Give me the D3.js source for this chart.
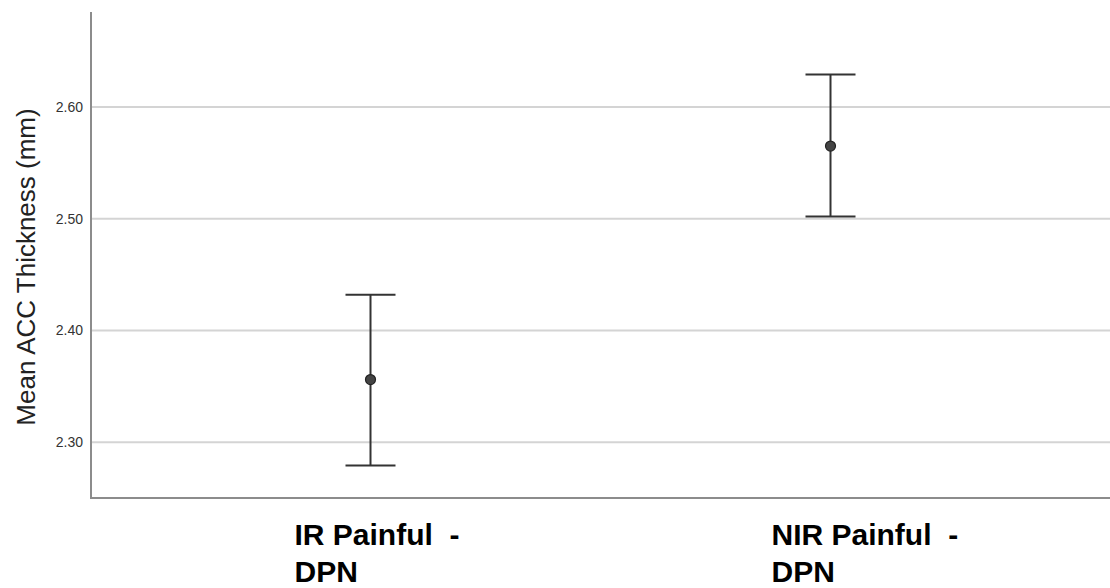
<!DOCTYPE html>
<html>
<head>
<meta charset="utf-8">
<script src="https://cdn.jsdelivr.net/npm/d3@7/dist/d3.min.js"></script>
<style>
  html, body { margin: 0; padding: 0; background: #fff; }
  svg { display: block; }
</style>
</head>
<body>
<svg id="chart" width="1110" height="588"></svg>
<script>
// ---- data ----
const categories = ["IR Painful  -|DPN", "NIR Painful  -|DPN"];
const means = [2.356, 2.565];
const lower = [2.279, 2.502];
const upper = [2.432, 2.629];
const yTicks = [2.30, 2.40, 2.50, 2.60];
const yTitle = "Mean ACC Thickness (mm)";
const labelOffsets = [-76, -59];

// ---- layout ----
const W = 1110, H = 588;
const axisX = 91, plotTop = 12, plotBottom = 498;

const svg = d3.select("#chart");

const y = d3.scaleLinear().domain([2.25, 2.685]).range([plotBottom, plotTop]);
const x = d3.scalePoint().domain(categories).range([axisX, W]).padding(0.6076);

// gridlines
svg.append("g").selectAll("line").data(yTicks).join("line")
  .attr("x1", axisX).attr("x2", W)
  .attr("y1", d => y(d)).attr("y2", d => y(d))
  .attr("stroke", "#d4d4d4").attr("stroke-width", 2);

// y axis
const yAxis = d3.axisLeft(y).tickValues(yTicks).tickFormat(d3.format(".2f")).tickSize(0).tickPadding(8);
const gy = svg.append("g").attr("transform", `translate(${axisX},0)`).call(yAxis);
gy.select(".domain").remove();
gy.selectAll("text").attr("font-family", "Liberation Sans, Arial, sans-serif")
  .attr("font-size", 14).attr("fill", "#333");

// axis lines
svg.append("line").attr("x1", axisX).attr("x2", axisX).attr("y1", plotTop).attr("y2", plotBottom + 1)
  .attr("stroke", "#8c8c8c").attr("stroke-width", 2);
svg.append("line").attr("x1", axisX - 1).attr("x2", W).attr("y1", plotBottom).attr("y2", plotBottom)
  .attr("stroke", "#8c8c8c").attr("stroke-width", 2);

// y title
svg.append("text")
  .attr("transform", `translate(35,267) rotate(-90)`)
  .attr("text-anchor", "middle")
  .attr("font-family", "Liberation Sans, Arial, sans-serif")
  .attr("font-size", 26).attr("fill", "#222")
  .text(yTitle);

// error bars
const data = categories.map((c, i) => ({ c, m: means[i], lo: lower[i], hi: upper[i] }));
const g = svg.append("g");
const capW = 25;
g.selectAll(".stem").data(data).join("line")
  .attr("x1", d => x(d.c)).attr("x2", d => x(d.c))
  .attr("y1", d => y(d.hi)).attr("y2", d => y(d.lo))
  .attr("stroke", "#333").attr("stroke-width", 2);
g.selectAll(".capT").data(data).join("line")
  .attr("x1", d => x(d.c) - capW).attr("x2", d => x(d.c) + capW)
  .attr("y1", d => y(d.hi)).attr("y2", d => y(d.hi))
  .attr("stroke", "#333").attr("stroke-width", 2);
g.selectAll(".capB").data(data).join("line")
  .attr("x1", d => x(d.c) - capW).attr("x2", d => x(d.c) + capW)
  .attr("y1", d => y(d.lo)).attr("y2", d => y(d.lo))
  .attr("stroke", "#333").attr("stroke-width", 2);
g.selectAll("circle").data(data).join("circle")
  .attr("cx", d => x(d.c)).attr("cy", d => y(d.m)).attr("r", 5)
  .attr("fill", "#444").attr("stroke", "#222").attr("stroke-width", 1.2);

// x labels
categories.forEach((c, i) => {
  const lines = c.split("|");
  const t = svg.append("text")
    .attr("font-family", "Liberation Sans, Arial, sans-serif")
    .attr("font-weight", "bold").attr("font-size", 30).attr("fill", "#000");
  lines.forEach((ln, j) => {
    t.append("tspan").attr("x", x(c) + labelOffsets[i]).attr("y", 545 + j * 37)
      .style("white-space", "pre").text(ln);
  });
});
</script>
</body>
</html>
